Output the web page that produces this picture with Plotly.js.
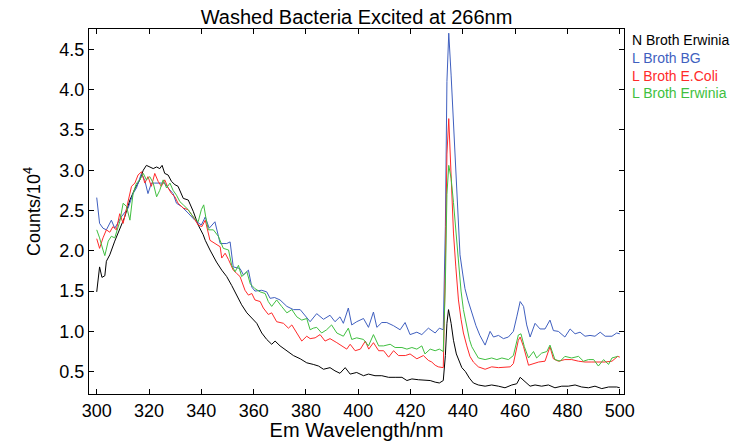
<!DOCTYPE html>
<html>
<head>
<meta charset="utf-8">
<script src="https://cdn.plot.ly/plotly-3.0.1.min.js"></script>
<style>html,body{margin:0;padding:0;background:#fff;}#chart{width:731px;height:441px;}</style>
</head>
<body>
<div id="chart"></div>
<script>
// Series names
const seriesNames = ["N Broth Erwinia", "L Broth BG", "L Broth E.Coli", "L Broth Erwinia"];

// N Broth Erwinia (black)
const nErwiniaX = [300,301.1,302,303.1,303.7,305,306.9,308.8,310.7,312.7,314.6,316.5,317.8,319,320.3,321.6,322.9,324.1,325,326,327.3,328.6,329.9,331.1,333.1,335,336.9,338.8,340.7,341.5,343.3,345.8,347.8,349.7,351.6,353.5,355.4,357.4,359.3,361.2,363.1,365,366.9,368.2,370.1,372.7,375.2,377.8,380.3,382.8,384.8,386.7,389.2,391.1,393,395,396.9,399.4,402,403.9,406.4,409,411.6,414.1,416.7,418.6,420.5,423,425.5,427.5,429.4,431,432.5,433.3,433.9,434.5,435.5,436.4,437.5,438.5,439.6,441,442.5,444,445.9,448.5,451,453.6,456.1,458.7,460.6,461.9,463.8,465.7,467.6,470.1,472.7,475.2,477.8,480.3,482.9,485.4,488,490.5,493.1,495.7,498.8,500];
const nErwiniaY = [1.49,1.80,1.67,1.69,1.87,1.95,2.12,2.26,2.42,2.63,2.77,2.88,3.00,3.06,3.04,3.02,3.04,3.02,3.06,2.96,2.94,2.86,2.82,2.80,2.65,2.63,2.49,2.32,2.20,2.13,2.01,1.86,1.76,1.68,1.57,1.45,1.33,1.23,1.17,1.10,0.98,0.90,0.84,0.88,0.82,0.76,0.70,0.66,0.61,0.59,0.57,0.53,0.55,0.51,0.48,0.55,0.47,0.49,0.45,0.47,0.45,0.45,0.43,0.43,0.43,0.39,0.41,0.40,0.39,0.39,0.37,0.36,0.39,0.70,1.10,1.27,1.10,0.89,0.72,0.63,0.55,0.50,0.42,0.36,0.335,0.32,0.335,0.32,0.30,0.335,0.35,0.43,0.37,0.32,0.335,0.32,0.335,0.30,0.32,0.32,0.335,0.31,0.30,0.32,0.29,0.31,0.31,0.30];

// L Broth BG (blue)
const bgX = [300,301.1,302.4,303.7,305.6,306.9,309.4,312,313.9,315.2,317.1,318.4,319.6,320.9,322.2,324.1,326,327.3,329.2,330.5,332.4,334.9,337.5,340,341.5,343,345.2,347.2,349.7,351,352.2,354.8,356.1,358,359.3,360.5,363.1,365,366.3,368,370.1,372.7,375.2,377.8,380.3,381.6,384.1,386.7,389.2,391.1,393,394.3,396.2,397.5,399.4,402,403.9,405.8,407.1,409,410.9,413.5,416,417.9,419.8,422.4,424.3,426.8,429.4,431,432.5,433.3,433.9,434.6,435.5,436.4,437.7,438.9,440,440.8,442,443.4,445,446.5,448.5,450.4,451.7,453.6,455.5,457.4,459.3,460.6,461.9,463.2,464.4,465.7,467.6,469.5,471.4,473.3,474.6,476.5,479,481,482.9,484.8,486.7,488.6,490.5,492.5,494.4,497,498.8,500];
const bgY = [2.66,2.34,2.28,2.26,2.38,2.28,2.42,2.53,2.71,2.78,2.96,2.87,2.71,2.84,2.84,2.84,2.84,2.78,2.71,2.59,2.55,2.47,2.38,2.32,2.42,2.28,2.36,2.09,2.09,2.11,1.80,1.78,1.70,1.76,1.55,1.50,1.51,1.49,1.41,1.42,1.39,1.31,1.27,1.27,1.18,1.12,1.22,1.15,1.20,1.12,1.18,1.10,1.29,1.08,1.12,1.16,1.05,1.24,1.05,1.11,1.11,1.07,1.02,1.11,0.96,0.99,0.96,1.04,0.98,1.04,1.02,2.30,4.10,4.70,4.18,3.56,2.73,1.95,1.70,1.53,1.38,1.22,1.07,0.95,0.83,1.00,0.93,0.95,0.91,0.93,1.00,1.18,1.37,1.31,1.08,0.93,1.10,1.03,1.03,1.14,1.01,1.00,0.93,1.03,0.97,0.99,0.94,0.95,0.94,0.99,0.94,0.94,0.98,0.97];

// L Broth E.Coli (red)
const ecoliX = [300,301.1,302.4,303.7,305,306.2,307.5,308.8,310.1,312,313.3,314.6,315.8,317.1,318.4,319.6,320.9,322.2,323.5,324.7,326,327.3,328.6,329.9,331.1,333.1,334.9,336.9,338.8,340.2,341.5,343.3,345.2,347.2,347.8,349.1,350.4,352.2,353.5,354.8,356.7,358,359.3,360.5,362.5,363.7,365.6,366.9,368.8,371.4,373.3,374.6,376.5,378.4,380.3,381.6,383.5,385.4,387.3,389.2,391.8,393.7,395.6,396.9,398.8,400.8,402.7,404,405.8,407.8,409.7,411.6,413.5,415.4,418,419.8,422.4,424.9,426.8,428.1,429.4,430.6,432.5,433.3,433.9,434.6,435.5,436.4,437.3,438.3,439.3,440.2,441.5,442.7,444,445.9,448.5,451,453.6,456.1,458.1,459.3,461.2,461.9,463.2,465.1,467,469,471.4,473.3,474.6,476.5,479,481.6,484.2,486.7,489.3,491.8,494.4,497,499.2,500];
const ecoliY = [2.15,2.03,2.16,2.26,2.23,2.30,2.26,2.46,2.34,2.63,2.80,2.84,2.94,2.98,2.84,2.92,2.80,2.96,2.86,2.80,2.88,2.78,2.71,2.67,2.59,2.53,2.51,2.42,2.32,2.30,2.38,2.13,2.09,2.05,1.91,1.97,1.89,1.76,1.72,1.68,1.51,1.45,1.47,1.39,1.37,1.29,1.21,1.23,1.12,1.10,1.04,1.08,0.98,0.88,0.94,0.91,0.92,0.96,0.88,0.91,0.86,0.82,0.78,0.84,0.76,0.78,0.88,0.78,0.86,0.76,0.76,0.68,0.76,0.70,0.70,0.72,0.66,0.70,0.64,0.62,0.58,0.56,0.55,1.80,3.20,3.64,3.00,2.22,1.80,1.39,1.15,0.98,0.82,0.69,0.62,0.56,0.53,0.56,0.55,0.56,0.56,0.60,0.89,0.93,0.81,0.58,0.60,0.62,0.63,0.81,0.66,0.63,0.65,0.65,0.63,0.62,0.62,0.62,0.62,0.63,0.69,0.68];

// L Broth Erwinia (green)
const lErwiniaX = [300,301.1,302.4,303.1,304.4,305.6,306.9,308.8,310.1,311.4,312.7,313.9,315.2,316.5,317.8,319,320.3,321.6,322.9,324.1,325.4,326.7,328,329.2,330.5,331.8,333.1,335,336.9,338.8,340,340.9,342,342.7,344.6,346.5,348.4,350.4,351.6,352.9,354.2,355.4,357.4,358.7,360.5,362.5,364.4,365.6,366.9,368.8,370.7,372.7,374.6,376.5,378.4,380.3,381.6,382.8,384.1,386,387.9,389.8,391.8,394.3,396.2,397.5,399.4,402,403.9,405.8,407.8,409.7,412.2,414.1,416.7,418.6,420.5,422.4,424.3,425.5,427.5,429.4,431,432.5,433.3,433.9,434.6,435.5,436.4,437.4,438.3,439.3,440.2,441.5,442.5,443.4,444.5,445.9,448.5,451,453,454.9,457.4,459.3,461.2,462.2,463.5,465.1,467,468.2,470.1,472.1,473.3,475.2,477.2,479,481.6,484.2,486.1,488,490,491.8,493.8,495.7,497,499.2];
const lErwiniaY = [2.26,2.16,2.01,1.94,2.12,2.18,2.16,2.36,2.59,2.55,2.38,2.71,2.84,2.88,2.96,2.88,2.92,2.84,2.67,2.75,2.88,2.78,2.84,2.75,2.69,2.61,2.57,2.51,2.42,2.36,2.51,2.57,2.36,2.26,2.26,2.18,2.03,2.01,1.82,1.74,1.82,1.68,1.74,1.59,1.53,1.49,1.47,1.37,1.31,1.39,1.31,1.23,1.27,1.18,1.14,1.16,1.02,1.04,1.05,0.98,1.02,1.08,0.98,0.94,1.04,0.90,0.92,0.90,0.82,0.96,0.82,0.82,0.84,0.80,0.80,0.78,0.80,0.78,0.82,0.72,0.78,0.76,0.78,0.75,1.60,2.70,3.06,2.90,2.60,2.20,1.80,1.50,1.27,1.05,0.90,0.81,0.74,0.67,0.65,0.67,0.65,0.67,0.65,0.70,0.955,0.97,0.81,0.67,0.75,0.67,0.73,0.75,0.83,0.65,0.63,0.69,0.67,0.69,0.63,0.65,0.65,0.57,0.65,0.59,0.67,0.69];

const lineColors = ["#000000", "#3f5fbf", "#ff2a2a", "#40bf40"];
const textColors = ["#000000", "#3f5fbf", "#ff2a2a", "#40bf40"];

const xs = [nErwiniaX, bgX, ecoliX, lErwiniaX];
const ys = [nErwiniaY, bgY, ecoliY, lErwiniaY];

const traces = seriesNames.map((n, i) => ({
  x: xs[i], y: ys[i], name: n, type: "scatter", mode: "lines",
  line: {color: lineColors[i], width: 1}, showlegend: false
}));

const legendY = [0.9699, 0.9197, 0.8721, 0.8238];
const annotations = seriesNames.map((n, i) => ({
  text: n, xref: "paper", yref: "paper", x: 1.011, y: legendY[i],
  xanchor: "left", yanchor: "middle", showarrow: false,
  font: {family: "Liberation Sans, Arial, sans-serif", size: 14, color: textColors[i]}
}));

const layout = {
  width: 731, height: 441,
  margin: {l: 89, r: 107, t: 29, b: 47, pad: 0},
  paper_bgcolor: "#ffffff", plot_bgcolor: "#ffffff",
  font: {family: "Liberation Sans, Arial, sans-serif", size: 18, color: "#000"},
  title: {text: "Washed Bacteria Excited at 266nm", x: 0.5, xref: "paper", y: 1 - 17/441, yref: "container", yanchor: "middle", font: {size: 20}},
  xaxis: {
    range: [297.05, 501.6], tickmode: "linear", tick0: 300, dtick: 20,
    ticks: "inside", ticklen: 5, tickcolor: "#000", mirror: "ticks",
    showline: true, linecolor: "#000", linewidth: 1, showgrid: false, zeroline: false,
    tickfont: {size: 18}, title: {text: "Em Wavelength/nm", font: {size: 20}, standoff: 5}
  },
  yaxis: {
    range: [0.223, 4.752], tickmode: "linear", tick0: 0.5, dtick: 0.5, tickformat: ".1f",
    ticks: "inside", ticklen: 5, tickcolor: "#000", mirror: "ticks",
    showline: true, linecolor: "#000", linewidth: 1, showgrid: false, zeroline: false,
    tickfont: {size: 18}, title: {text: "Counts/10<sup>4</sup>", font: {size: 18}, standoff: 14}
  },
  annotations: annotations
};

Plotly.newPlot("chart", traces, layout, {displayModeBar: false, staticPlot: true});
</script>
</body>
</html>
